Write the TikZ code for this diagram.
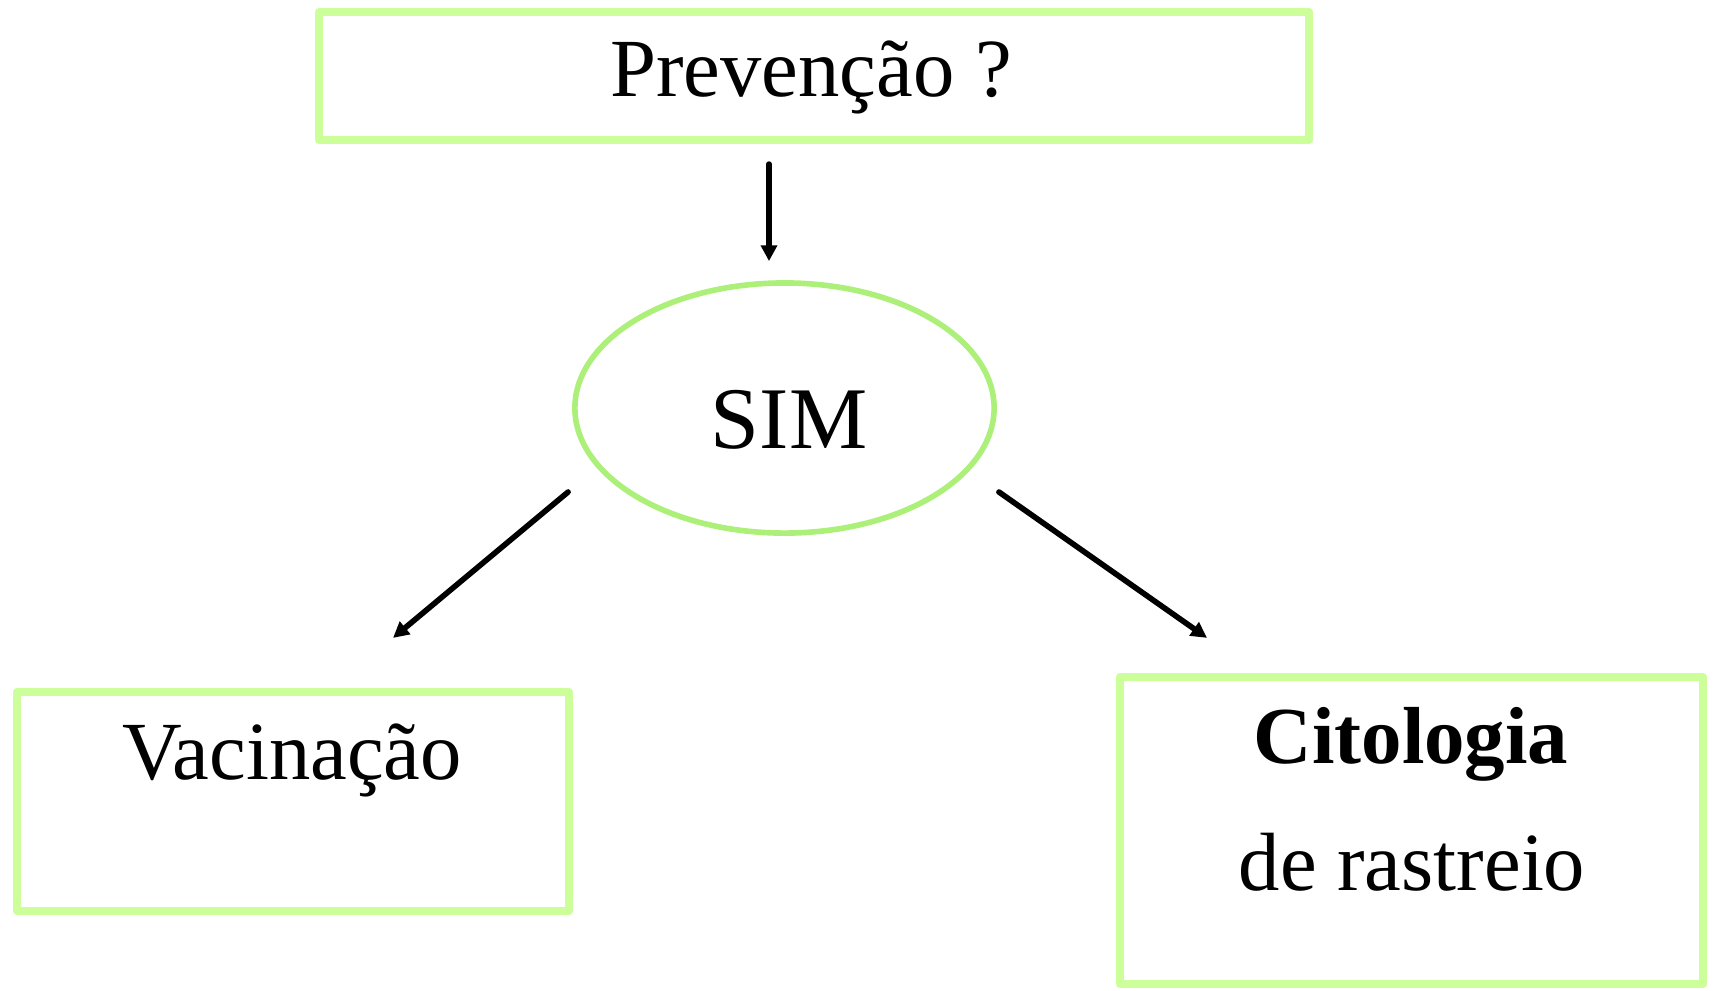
\documentclass[tikz,border=0pt]{standalone}
\usepackage{fontspec}
\setmainfont{Liberation Serif}
\usetikzlibrary{shapes.geometric,arrows.meta,calc}
\definecolor{verdeclaro}{RGB}{204,255,153}
\definecolor{verde}{RGB}{172,240,122}
\begin{document}
\begin{tikzpicture}[x=0.01cm,y=-0.01cm,line join=round,line cap=round,
	font=\fontsize{23.5}{28}\selectfont,
	caixa/.style={draw=verdeclaro,line width=2.3pt,inner sep=0pt},
	seta/.style={-{Triangle[length=4.5pt,width=4.5pt]},line width=1.6pt}]
	\useasboundingbox (0,0) rectangle (1716,990);
	% caixas e elipse
	\node[caixa,minimum width=9.90cm,minimum height=1.28cm] (prev) at (814,76) {};
	\node[ellipse,draw=verde,line width=1.6pt,inner sep=0pt,minimum width=4.19cm,minimum height=2.50cm] (sim) at (784.5,408) {};
	\node[caixa,minimum width=5.52cm,minimum height=2.19cm] (vac) at (293,801.5) {};
	\node[caixa,minimum width=5.83cm,minimum height=3.07cm] (cit) at (1411.5,830.5) {};
	% textos
	\node[anchor=base] (prevtxt) at (811,96) {Prevenção ?};
	\node[anchor=base,font=\fontsize{25}{30}\selectfont] (simtxt) at (789,448) {SIM};
	\node[anchor=base] (vactxt) at (292,779) {Vacinação};
	\node[anchor=base,font=\fontsize{23}{28}\selectfont\bfseries] (cittxt) at (1411,763) {Citologia};
	\node[anchor=base] (rastxt) at (1412,890) {de rastreio};
	% setas
	\draw[seta] ($(prev.south)+(-45,20)$) -- ($(sim.north)+(-15.5,-19)$);
	\draw[seta] ($(sim.west)+(-4,84)$) -- ($(vac.north)+(100,-50)$);
	\draw[seta] ($(sim.east)+(2,84)$) -- ($(cit.north)+(-204.5,-35)$);
\end{tikzpicture}
\end{document}
